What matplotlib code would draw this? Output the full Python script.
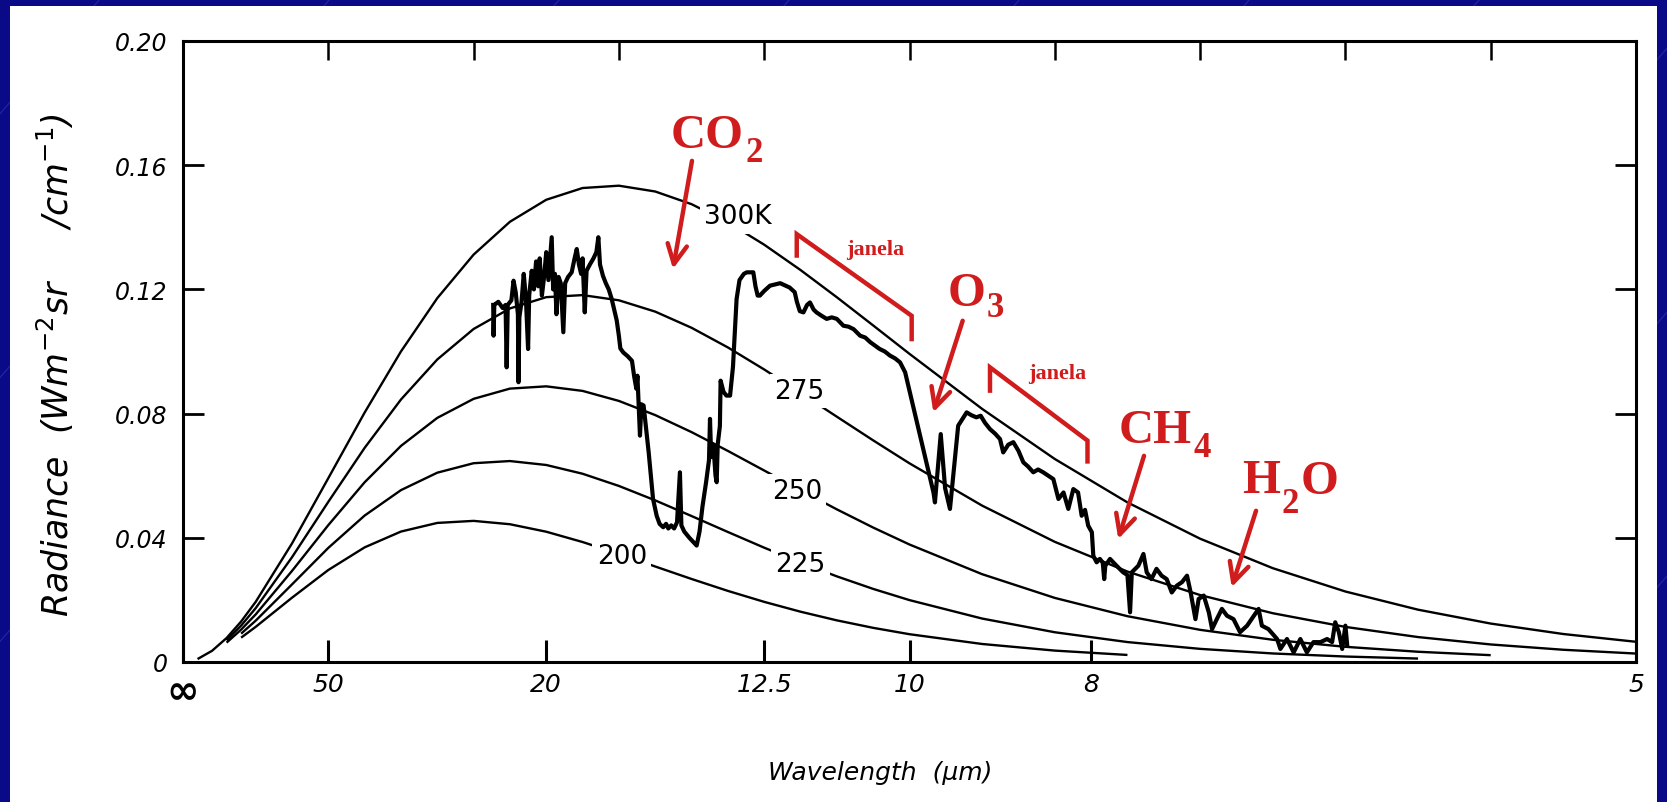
import matplotlib
matplotlib.use('Agg')
import matplotlib.pyplot as plt
from matplotlib.patches import Rectangle
from matplotlib.lines import Line2D

# Blackbody radiance curves, W m^-2 sr^-1 / cm^-1, against wavenumber (cm^-1)
nu_300 = [20, 40, 60, 80, 100, 150, 200, 250, 300, 350, 400, 450, 500, 550, 600, 650, 700,
          750, 800, 850, 900, 950, 1000, 1100, 1200, 1300, 1400, 1500, 1600, 1700, 1800, 1900, 2000]
rad_300 = [0.00095, 0.00361, 0.00772, 0.01304, 0.01935, 0.03817, 0.05920, 0.08033, 0.10001,
           0.11718, 0.13120, 0.14178, 0.14887, 0.15265, 0.15340, 0.15153, 0.14745, 0.14160,
           0.13440, 0.12624, 0.11747, 0.10839, 0.09924, 0.08151, 0.06538, 0.05140, 0.03971,
           0.03022, 0.02270, 0.01685, 0.01238, 0.00901, 0.00651]

nu_275 = nu_300[2:]
rad_275 = [0.00698, 0.01173, 0.01733, 0.03373, 0.05158, 0.06896, 0.08453, 0.09743, 0.10725,
           0.11387, 0.11750, 0.11816, 0.11649, 0.11284, 0.10764, 0.10131, 0.09421, 0.08669,
           0.07900, 0.07138, 0.06398, 0.05036, 0.03870, 0.02913, 0.02156, 0.01571, 0.01130,
           0.00803, 0.00565, 0.00394, 0.00272]

nu_250 = nu_300[2:-2]
rad_250 = [0.00624, 0.01043, 0.01531, 0.02932, 0.04408, 0.05788, 0.06959, 0.07862, 0.08475,
           0.08805, 0.08878, 0.08731, 0.08408, 0.07952, 0.07404, 0.06798, 0.06167, 0.05533,
           0.04916, 0.04330, 0.03784, 0.02828, 0.02064, 0.01475, 0.01036, 0.00716, 0.00489,
           0.00330, 0.00220]

nu_225 = nu_300[3:-3]
rad_225 = [0.00913, 0.01330, 0.02498, 0.03675, 0.04716, 0.05535, 0.06097, 0.06402, 0.06472,
           0.06345, 0.06063, 0.05670, 0.05205, 0.04701, 0.04187, 0.03682, 0.03203, 0.02758,
           0.02354, 0.01993, 0.01399, 0.00958, 0.00642, 0.00423, 0.00275, 0.00176, 0.00111]

nu_200 = nu_300[3:-7]
rad_200 = [0.00784, 0.01131, 0.02070, 0.02963, 0.03692, 0.04201, 0.04479, 0.04545, 0.04437,
           0.04196, 0.03864, 0.03481, 0.03076, 0.02674, 0.02290, 0.01937, 0.01620, 0.01341,
           0.01100, 0.00895, 0.00580, 0.00367, 0.00227]

# Measured emission spectrum (wavenumber, radiance)
spec_nu = [
    427, 427.5, 428.5, 434, 440, 444, 445.5, 447, 452, 455, 458, 461, 461.8, 463, 466, 469,
    472, 475, 476.5, 480, 483, 486, 489, 491, 494, 497, 500, 503, 507.5, 509.5, 512, 514,
    517, 520, 523.5, 526, 530, 535, 539, 542, 545, 548, 550, 553, 555.5, 560, 565, 569,
    571.7, 574, 578, 582, 586, 590, 594, 597, 600, 602, 606, 612, 618, 621, 624, 625.5,
    627, 629, 631, 634, 637, 641, 647, 652, 656, 661, 665, 668, 672, 676, 680, 684, 686,
    690, 697, 703, 707, 711, 715, 720, 724, 725.4, 727, 730, 733, 734.6, 736, 739, 740,
    744, 748, 753, 757, 760, 762, 766, 772, 776, 785, 788, 791, 794,
    800, 808, 822, 835, 842, 845, 849, 854, 859, 863, 868, 872, 879, 886, 893, 900, 909,
    916, 923, 932, 939, 946, 952, 959, 966, 973, 980, 987, 994,
    1033, 1035, 1043, 1049, 1055.7, 1061, 1067, 1078.7, 1085, 1092, 1098, 1104, 1110.8,
    1118, 1124.6, 1129, 1136, 1142.9, 1150, 1156.7, 1163, 1170.4, 1177, 1184, 1191, 1198,
    1205, 1212, 1218.6, 1225.5, 1232, 1237,
    1241.6, 1246, 1251, 1253, 1257.6, 1262, 1266, 1268, 1269.5, 1276, 1285, 1294, 1300,
    1303.6, 1306, 1315, 1322, 1326.5, 1333, 1340, 1347, 1354, 1361, 1368, 1375, 1382, 1387,
    1393.6, 1398, 1405, 1412, 1416.5, 1423, 1430, 1437, 1446, 1455, 1464.7, 1474, 1480.5,
    1485, 1494, 1506, 1510.5, 1519.6, 1528.8, 1538, 1547, 1556, 1565.6, 1574.8, 1581.7,
    1586, 1591, 1595.6, 1600, 1602.5]
spec_rad = [
    0.1150, 0.1051, 0.1150, 0.1160, 0.1140, 0.1150, 0.0949, 0.1150, 0.1165, 0.1228, 0.1190,
    0.1120, 0.0901, 0.1110, 0.1160, 0.1250, 0.1170, 0.1008, 0.1180, 0.1260, 0.1200, 0.1290,
    0.1210, 0.1300, 0.1180, 0.1240, 0.1320, 0.1230, 0.1368, 0.1200, 0.1250, 0.1120, 0.1240,
    0.1220, 0.1062, 0.1220, 0.1240, 0.1255, 0.1300, 0.1330, 0.1280, 0.1250, 0.1300, 0.1126,
    0.1260, 0.1280, 0.1300, 0.1320, 0.1368, 0.1280, 0.1244, 0.1220, 0.1200, 0.1170, 0.1130,
    0.1100, 0.1050, 0.1010, 0.0997, 0.0985, 0.0970, 0.0920, 0.0880, 0.0922, 0.0840, 0.0729,
    0.0830, 0.0826, 0.0760, 0.0675, 0.0525, 0.0471, 0.0445, 0.0434, 0.0445, 0.0430, 0.0440,
    0.0430, 0.0450, 0.0611, 0.0440, 0.0420, 0.0400, 0.0385, 0.0375, 0.0420, 0.0500, 0.0579,
    0.0650, 0.0783, 0.0660, 0.0700, 0.0600, 0.0579, 0.0700, 0.0760, 0.0906, 0.0870, 0.0858,
    0.0858, 0.0950, 0.1080, 0.1169, 0.1230, 0.1250, 0.1255, 0.1255, 0.1210, 0.1180, 0.1180,
    0.1195, 0.1212, 0.1220, 0.1206, 0.1191, 0.1160, 0.1130, 0.1126, 0.1150, 0.1158, 0.1135,
    0.1126, 0.1115, 0.1105, 0.1110, 0.1105, 0.1083, 0.1080, 0.1072, 0.1051, 0.1045, 0.1030,
    0.1020, 0.1008, 0.1000, 0.0987, 0.0978, 0.0965, 0.0933,
    0.0546, 0.0514, 0.0734, 0.0560, 0.0493, 0.0620, 0.0761, 0.0804, 0.0795, 0.0788, 0.0793,
    0.0770, 0.0750, 0.0735, 0.0718, 0.0675, 0.0700, 0.0708, 0.0680, 0.0643, 0.0630, 0.0611,
    0.0620, 0.0611, 0.0600, 0.0589, 0.0525, 0.0546, 0.0493, 0.0557, 0.0546, 0.0471,
    0.0490, 0.0439, 0.0418, 0.0342, 0.0321, 0.0332, 0.0320, 0.0267, 0.0310, 0.0332, 0.0310,
    0.0289, 0.0280, 0.0160, 0.0289, 0.0310, 0.0348, 0.0289, 0.0267, 0.0300, 0.0278, 0.0267,
    0.0224, 0.0246, 0.0257, 0.0278, 0.0224, 0.0138, 0.0203, 0.0214, 0.0160, 0.0106, 0.0138,
    0.0171, 0.0149, 0.0138, 0.0096, 0.0117, 0.0149, 0.0171, 0.0117, 0.0106, 0.0074, 0.0042,
    0.0074, 0.0031, 0.0074, 0.0031, 0.0064, 0.0064, 0.0074, 0.0064, 0.0128, 0.0096, 0.0042,
    0.0117, 0.0053]

# Axis ticks: wavelength labels on a wavenumber scale
x_ticks = [0, 200, 500, 800, 1000, 1250, 2000]
x_tick_labels = ['\u221e', '50', '20', '12.5', '10', '8', '5']
top_ticks = [200, 400, 600, 800, 1000, 1200, 1400, 1600, 1800]
y_ticks = [0, 0.04, 0.08, 0.12, 0.16, 0.20]
y_tick_labels = ['0', '0.04', '0.08', '0.12', '0.16', '0.20']

curves = [(nu_300, rad_300, '300K', 764, 0.1435),
          (nu_275, rad_275, '275', 848, 0.0873),
          (nu_250, rad_250, '250', 845, 0.0551),
          (nu_225, rad_225, '225', 850, 0.0315),
          (nu_200, rad_200, '200', 604, 0.0341)]

RED = '#d01c1c'
W, H = 1667, 803

fig = plt.figure(figsize=(W / 100, H / 100), dpi=100, facecolor='#0a0a88')

# diagonal streaks of the slide background
for x0 in range(-600, 1700, 230):
    fig.add_artist(Line2D([x0 / W, (x0 + 700) / W], [0, 1], transform=fig.transFigure,
                          color='#2c2cb0', lw=0.9, alpha=0.7, zorder=-2))
fig.add_artist(Rectangle((10 / W, 0), (1657 - 10) / W, (H - 7) / H, transform=fig.transFigure,
                         facecolor='white', edgecolor='none', zorder=-1))

ax = fig.add_axes([183 / W, (H - 663) / H, (1636 - 183) / W, (663 - 42) / H])
ax.set_facecolor('white')
ax.set_xlim(0, 2000)
ax.set_ylim(0, 0.20)

for nu, rad, label, lx, ly in curves:
    ax.plot(nu, rad, color='black', lw=1.7, solid_capstyle='butt', zorder=2)
    ax.text(lx, ly, label, fontsize=19, ha='center', va='center', color='black',
            bbox=dict(facecolor='white', edgecolor='none', pad=3), zorder=3)

ax.plot(spec_nu, spec_rad, color='black', lw=3.0, solid_joinstyle='round', zorder=4)

for side in ax.spines.values():
    side.set_linewidth(2.2)

ax.set_xticks(x_ticks)
ax.set_xticklabels(x_tick_labels, fontsize=18, style='italic')
ax.get_xticklabels()[0].set_fontsize(28)
ax.get_xticklabels()[0].set_fontweight('bold')
ax.set_yticks(y_ticks)
ax.set_yticklabels(y_tick_labels, fontsize=17, style='italic')
ax.tick_params(axis='x', direction='in', length=16, width=2.2, pad=7)
ax.tick_params(axis='y', direction='in', length=15, width=2.0, pad=11, right=True)

top = ax.secondary_xaxis('top')
top.set_xticks(top_ticks)
top.tick_params(direction='in', length=14, width=1.8, labeltop=False)

fig.text(55 / W, 1 - 365 / H, 'Radiance  (Wm$^{-2}$sr     /cm$^{-1}$)', rotation=90,
         ha='center', va='center', fontsize=25, style='italic')
fig.text(880 / W, 1 - 773 / H, 'Wavelength  (\u03bcm)', ha='center', va='center',
         fontsize=18, style='italic')

# gas labels and arrows
big = dict(family='Liberation Serif', weight='bold', color=RED, fontsize=35, va='baseline')
small = dict(family='Liberation Serif', weight='bold', color=RED, fontsize=25, va='baseline')

ax.text(772, 0.1659, 'CO', ha='right', **big)
ax.text(774, 0.1614, '2', ha='left', **small)
ax.text(1104, 0.1150, 'O', ha='right', **big)
ax.text(1106, 0.1115, '3', ha='left', **small)
ax.text(1389, 0.0709, 'CH', ha='right', **big)
ax.text(1391, 0.0663, '4', ha='left', **small)
ax.text(1510, 0.0548, 'H', ha='right', **big)
ax.text(1512, 0.0483, '2', ha='left', **small)
ax.text(1538, 0.0544, 'O', ha='left', **big)

arrows = [((700.6, 0.1614), (674.5, 0.1266)),
          ((1073.2, 0.1099), (1032.8, 0.0804)),
          ((1322.8, 0.0664), (1287.4, 0.0396)),
          ((1477.0, 0.0487), (1443.5, 0.0241))]
for start, tip in arrows:
    ax.annotate('', xy=tip, xytext=start,
                arrowprops=dict(arrowstyle='->,head_length=0.7,head_width=0.35',
                                mutation_scale=20, color=RED, lw=3.2,
                                shrinkA=0, shrinkB=0), zorder=6)

brackets = [([844.8, 844.8, 1003.0, 1003.0], [0.1309, 0.1378, 0.1115, 0.1040]),
            ([1110.8, 1110.8, 1245.0, 1245.0], [0.0874, 0.0949, 0.0713, 0.0646])]
for bx, by in brackets:
    ax.plot(bx, by, color=RED, lw=3.2, solid_joinstyle='miter', zorder=6)

ax.text(952.5, 0.1330, 'janela', ha='center', va='center', family='Liberation Serif',
        weight='bold', fontsize=16, color=RED)
ax.text(1203.7, 0.0931, 'janela', ha='center', va='center', family='Liberation Serif',
        weight='bold', fontsize=16, color=RED)

fig.savefig('out.png', dpi=100, facecolor=fig.get_facecolor())
